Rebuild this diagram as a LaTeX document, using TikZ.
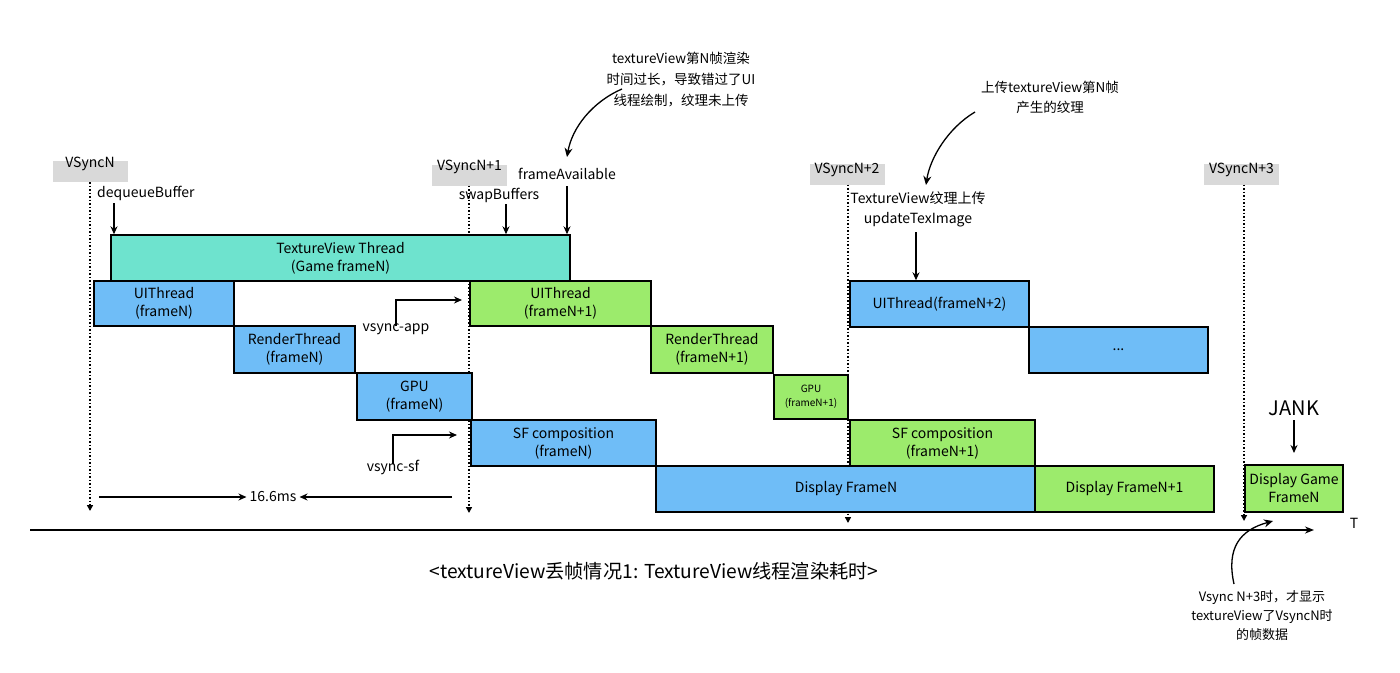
\documentclass[tikz,border=0pt]{standalone}
\usepackage{fontspec}
\setmainfont{Noto Sans CJK SC}
\usetikzlibrary{arrows.meta}
\definecolor{tvteal}{HTML}{6EE3CE}
\definecolor{bblue}{HTML}{6FBDF7}
\definecolor{ggreen}{HTML}{9CEB6C}
\definecolor{vgray}{HTML}{D9D9D9}
\tikzset{
  box/.style={draw=black, line width=1.4pt, align=center, inner sep=0pt, font=\fontsize{14}{18}\selectfont},
  bluebox/.style={box, fill=bblue},
  greenbox/.style={box, fill=ggreen},
  tealbox/.style={box, fill=tvteal},
  vlabel/.style={fill=vgray, minimum width=75pt, minimum height=21pt, inner sep=0pt},
  vtext/.style={font=\fontsize{14}{16}\selectfont, inner sep=0pt},
  lbl/.style={font=\fontsize{14}{20}\selectfont, inner sep=0pt, align=center},
  vline/.style={dotted, line width=1.5pt, -{Triangle[length=6pt,width=6pt]}},
  arr/.style={line width=1.3pt, -{Stealth[length=8pt,width=7pt]}},
  curv/.style={line width=1.3pt, -{Stealth[length=9pt,width=8pt]}},
}
\begin{document}
\begin{tikzpicture}[x=1pt,y=-1pt]
\useasboundingbox (0,0) rectangle (1400,672);

% vsync labels
\node[vlabel] (vn0) at (90,171.5) {};
\node[vtext] at (90,164) (vt0) {VSyncN};
\node[vlabel] (vn1) at (469.5,175) {};
\node[vtext] at (469.5,167) (vt1) {VSyncN+1};
\node[vlabel] (vn2) at (847,174) {};
\node[vtext] at (847,170) (vt2) {VSyncN+2};
\node[vlabel] (vn3) at (1241.5,174) {};
\node[vtext] at (1241.5,170) (vt3) {VSyncN+3};

% vsync dotted lines
\coordinate (e0) at (90,511);
\coordinate (e1) at (469,513);
\coordinate (e2) at (848,523);
\coordinate (e3) at (1244,521);
\draw[vline] (vn0.south -| e0) -- (e0);
\draw[vline] (vn1.south -| e1) -- (e1);
\draw[vline] (vn2.south -| e2) -- (e2);
\draw[vline] (vn3.south -| e3) -- (e3);

% boxes
\node[tealbox, minimum width=459pt, minimum height=46pt] (tv) at (340.5,258) {TextureView Thread\\(Game frameN)};
\node[bluebox, minimum width=140pt, minimum height=45pt] (ui1) at (164,303.5) {UIThread\\(frameN)};
\node[bluebox, minimum width=121pt, minimum height=47pt] (rt1) at (294.5,349.5) {RenderThread\\(frameN)};
\node[bluebox, minimum width=115pt, minimum height=47pt] (gpu1) at (414.5,396.5) {GPU\\(frameN)};
\node[bluebox, minimum width=185pt, minimum height=46pt] (sf1) at (563.5,443) {SF composition\\(frameN)};
\node[bluebox, minimum width=380pt, minimum height=46pt] (disp1) at (846,489) {Display FrameN};
\node[greenbox, minimum width=181pt, minimum height=45pt] (ui2) at (560.5,303.5) {UIThread\\(frameN+1)};
\node[greenbox, minimum width=122pt, minimum height=47pt] (rt2) at (712,349.5) {RenderThread\\(frameN+1)};
\node[greenbox, minimum width=74pt, minimum height=44pt, font=\fontsize{10}{14}\selectfont] (gpu2) at (811,397) {GPU\\(frameN+1)};
\node[greenbox, minimum width=185pt, minimum height=46pt] (sf2) at (942.5,443) {SF composition\\(frameN+1)};
\node[greenbox, minimum width=179pt, minimum height=46pt] (disp2) at (1124.5,489) {Display FrameN+1};
\node[bluebox, minimum width=179pt, minimum height=46pt] (ui3) at (939.5,304) {UIThread(frameN+2)};
\node[bluebox, minimum width=179pt, minimum height=46pt] (dots) at (1118.5,350) {...};
\node[greenbox, minimum width=98pt, minimum height=47pt] (dg) at (1294,488.5) {Display Game\\FrameN};

% labels above
\node[lbl, anchor=west] (deq) at (97,193) {dequeueBuffer};
\coordinate (a0) at (114,203);
\draw[arr] (a0) -- (tv.north -| a0);
\node[lbl] (swap) at (499,195) {swapBuffers};
\coordinate (a1) at (506,204);
\draw[arr] (a1) -- (tv.north -| a1);
\node[lbl] (fa) at (567,174) {frameAvailable};
\coordinate (a2) at (567,186);
\draw[arr] (a2) -- (tv.north -| a2);
\node[lbl] (tvu) at (918,209) {TextureView纹理上传\\updateTexImage};
\coordinate (a3) at (916,232);
\draw[arr] (a3) -- (ui3.north -| a3);

% annotations
\node[lbl, font=\fontsize{13.5}{21}\selectfont] (ann1) at (681,80) {textureView第N帧渲染\\时间过长，导致错过了UI\\线程绘制，纹理未上传};
\coordinate (s1) at (622,89);
\coordinate (c1) at (567,157);
\draw[curv] (s1) .. controls (592,102) and (572,128) .. (c1);
\node[lbl, font=\fontsize{13.5}{20}\selectfont] (ann2) at (1050,97) {上传textureView第N帧\\产生的纹理};
\coordinate (s2) at (975,112);
\coordinate (c2) at (926,185);
\draw[curv] (s2) .. controls (948,128) and (930,158) .. (c2);

% vsync-app / vsync-sf
\node[lbl] (vapp) at (396,329) {vsync-app};
\coordinate (p1) at (462,300);
\draw[arr] ([yshift=-3pt]vapp.north) |- (p1);
\node[lbl] (vsf) at (393,467) {vsync-sf};
\coordinate (p2) at (457,435);
\draw[arr] ([yshift=-4pt]vsf.north) |- (p2);

% 16.6ms
\node[lbl] (ms) at (273,497) {16.6ms};
\coordinate (m0) at (99,497);
\coordinate (m1) at (452,497);
\draw[arr] (m0) -- ([xshift=-3pt]ms.west);
\draw[arr] (m1) -- ([xshift=3pt]ms.east);

% JANK
\node[lbl, font=\fontsize{20}{24}\selectfont] (jank) at (1294,408) {JANK};
\coordinate (j0) at (1294,420);
\coordinate (j1) at (1294,453);
\draw[arr] (j0) -- (j1);

% time axis
\coordinate (t0) at (30,530);
\coordinate (t1) at (1314,530);
\draw[line width=1.5pt, -{Stealth[length=9pt,width=7pt]}] (t0) -- (t1);
\node[lbl] (T) at (1354,523) {T};

% caption
\node[lbl, font=\fontsize{19.2}{22}\selectfont] (cap) at (654,571) {<textureView丢帧情况1: TextureView线程渲染耗时>};

% bottom annotation
\node[lbl, font=\fontsize{13}{19}\selectfont] (ann3) at (1262,616) {Vsync N+3时，才显示\\textureView了VsyncN时\\的帧数据};
\coordinate (s3) at (1234,584);
\coordinate (c3) at (1273,521);
\draw[curv] (s3) .. controls (1226,548) and (1240,530) .. (c3);

\end{tikzpicture}
\end{document}
